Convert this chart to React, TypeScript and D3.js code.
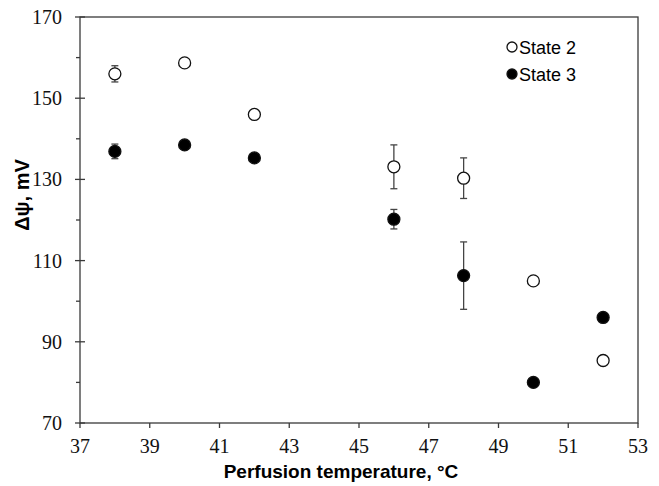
import React from "react";
import * as d3 from "d3";

const temps = [38, 40, 42, 46, 48, 50, 52];
const state2 = [156, 158.7, 146, 133.1, 130.3, 105, 85.4];
const state2Err = [2, 0, 0, 5.4, 5, 0, 0];
const state3 = [136.9, 138.5, 135.3, 120.2, 106.3, 80, 96];
const state3Err = [1.8, 0, 0, 2.4, 8.3, 0, 0];
const xTicks = [37, 39, 41, 43, 45, 47, 49, 51, 53];
const yTicks = [70, 90, 110, 130, 150, 170];
const yMinor = [80, 100, 120, 140, 160];

const W = 659, H = 486;
const left = 80, right = 638, top = 17, bottom = 423;
const sans = "Liberation Sans";

export default function App() {
  const x = d3.scaleLinear().domain([37, 53]).range([left, right]);
  const y = d3.scaleLinear().domain([70, 170]).range([bottom, top]);
  const axisColor = "#3a3a3a";
  const series = [
    { vals: state2, errs: state2Err, fill: "#fff" },
    { vals: state3, errs: state3Err, fill: "#000" },
  ];
  return (
    <svg lang="en" width={W} height={H} style={{ position: "absolute", left: 0, top: 0, background: "#fff" }}>
      <style>{".tk{font-family:'Liberation Serif','Times New Roman',serif;font-size:20px;fill:#111}"}</style>
      <rect x={left} y={top} width={right - left} height={bottom - top} fill="none" stroke={axisColor} strokeWidth={1.3} />
      {yTicks.map((t) => (
        <g key={"y" + t}>
          <line x1={left - 5} x2={left + 5} y1={y(t)} y2={y(t)} stroke={axisColor} strokeWidth={1.3} />
          <text lang="en" className="tk" fontFamily="Liberation Serif" x={62} y={y(t)} dy="0.35em" textAnchor="end"><tspan>{String(t)}</tspan></text>
        </g>
      ))}
      {yMinor.map((t) => (
        <line key={"ym" + t} x1={left - 4} x2={left} y1={y(t)} y2={y(t)} stroke={axisColor} strokeWidth={1.3} />
      ))}
      {xTicks.map((t) => (
        <g key={"x" + t}>
          <line x1={x(t)} x2={x(t)} y1={bottom} y2={bottom + 5} stroke={axisColor} strokeWidth={1.3} />
          <text lang="en" className="tk" fontFamily="Liberation Serif" x={x(t)} y={bottom + 30} textAnchor="middle"><tspan>{String(t)}</tspan></text>
        </g>
      ))}
      {series.map((s, si) => (
        <g key={"s" + si}>
          {temps.map((t, i) =>
            s.errs[i] > 0 ? (
              <g key={"e" + i} stroke="#444" strokeWidth={1.3}>
                <line x1={x(t)} x2={x(t)} y1={y(s.vals[i] + s.errs[i])} y2={y(s.vals[i] - s.errs[i])} />
                <line x1={x(t) - 3.5} x2={x(t) + 3.5} y1={y(s.vals[i] + s.errs[i])} y2={y(s.vals[i] + s.errs[i])} />
                <line x1={x(t) - 3.5} x2={x(t) + 3.5} y1={y(s.vals[i] - s.errs[i])} y2={y(s.vals[i] - s.errs[i])} />
              </g>
            ) : null
          )}
          {temps.map((t, i) => (
            <circle key={"c" + i} cx={x(t)} cy={y(s.vals[i])} r={6} fill={s.fill} stroke="#111" strokeWidth={1.3} />
          ))}
        </g>
      ))}
      <circle cx={512} cy={47} r={5} fill="#fff" stroke="#111" strokeWidth={1.3} />
      <text x={519} y={53.5} fontFamily={sans} fontSize={18} fill="#000">State 2</text>
      <circle cx={512} cy={74} r={5} fill="#000" stroke="#111" strokeWidth={1.3} />
      <text x={519} y={80.5} fontFamily={sans} fontSize={18} fill="#000">State 3</text>
      <text x={341} y={478} textAnchor="middle" fontFamily={sans} fontWeight="bold" fontSize={19} fill="#000">Perfusion temperature, °C</text>
      <text transform="translate(29,195) rotate(-90)" textAnchor="middle" fontFamily={sans} fontWeight="bold" fontSize={20} fill="#000">Δψ, mV</text>
    </svg>
  );
}
